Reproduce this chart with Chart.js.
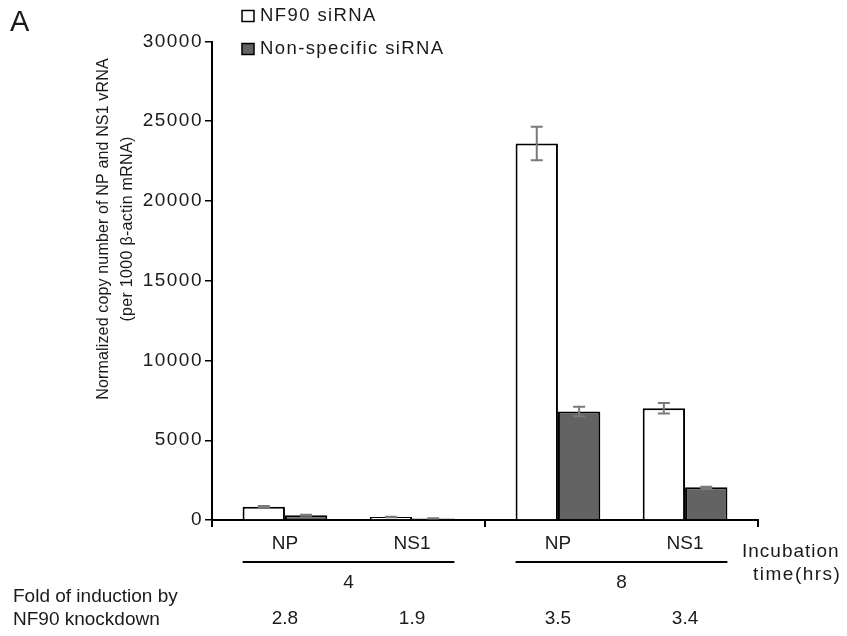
<!DOCTYPE html>
<html>
<head>
<meta charset="utf-8">
<script src="https://cdn.jsdelivr.net/npm/chart.js@4.4.1/dist/chart.umd.min.js"></script>
<style>
  html, body { margin: 0; padding: 0; background: #fff; }
  #wrap { width: 847px; height: 636px; position: relative; }
</style>
</head>
<body>
<div id="wrap"><canvas id="c"></canvas></div>
<script>
// incubation time groups and genes
const times = ['4', '8'];
const genes = ['NP', 'NS1'];
// order: NP 4h, NS1 4h, NP 8h, NS1 8h
const nf90Values = [830, 190, 23600, 7000];
const nf90Errors = [40, 20, 1050, 330];
const nonspecValues = [300, 100, 6800, 2050];
const nonspecErrors = [30, 10, 300, 40];
const foldLabels = ['2.8', '1.9', '3.5', '3.4'];
const yTicks = [0, 5000, 10000, 15000, 20000, 25000, 30000];

const FONT = '"Liberation Sans", Arial, sans-serif';
const INK = '#1a1a1a';
const DARK = '#636363';

// pick values of one gene for every time group
const pick = (arr, gi) => times.map((t, ti) => arr[ti * genes.length + gi]);

function series(label, arr, errs, gi, fill) {
  return {
    label, gene: gi,
    data: pick(arr, gi),
    errs: pick(errs, gi),
    backgroundColor: fill,
    borderColor: '#000',
    borderWidth: 2,
  };
}

const datasets = [
  series('NF90 siRNA', nf90Values, nf90Errors, 0, '#ffffff'),
  series('Non-specific siRNA', nonspecValues, nonspecErrors, 0, DARK),
  { label: '', data: times.map(() => null), backgroundColor: 'transparent', borderWidth: 0 }, // gap between genes
  series('NF90 siRNA', nf90Values, nf90Errors, 1, '#ffffff'),
  series('Non-specific siRNA', nonspecValues, nonspecErrors, 1, DARK),
];

function txt(ctx, s, x, y, size, align, spacing) {
  ctx.save();
  ctx.font = size + 'px ' + FONT;
  ctx.letterSpacing = (spacing || 0) + 'px';
  ctx.fillStyle = INK;
  ctx.textAlign = align || 'center';
  ctx.textBaseline = 'middle';
  ctx.fillText(s, x, y);
  ctx.restore();
}

const spacingPlugin = {
  id: 'spacing',
  beforeDraw(chart) { chart.ctx.letterSpacing = '1.5px'; }
};

const errorBars = {
  id: 'errorBars',
  afterDatasetsDraw(chart) {
    const ctx = chart.ctx, y = chart.scales.y;
    ctx.save();
    ctx.strokeStyle = '#7a7a7a';
    ctx.lineWidth = 2;
    chart.data.datasets.forEach((ds, di) => {
      if (!ds.errs) return;
      chart.getDatasetMeta(di).data.forEach((bar, i) => {
        const v = ds.data[i], e = ds.errs[i];
        const y1 = y.getPixelForValue(v + e), y2 = y.getPixelForValue(v - e);
        ctx.beginPath();
        ctx.moveTo(bar.x, y1); ctx.lineTo(bar.x, y2);
        ctx.moveTo(bar.x - 6, y1); ctx.lineTo(bar.x + 6, y1);
        ctx.moveTo(bar.x - 6, y2); ctx.lineTo(bar.x + 6, y2);
        ctx.stroke();
      });
    });
    ctx.restore();
  }
};

const annotations = {
  id: 'annotations',
  afterDraw(chart) {
    const ctx = chart.ctx, xs = chart.scales.x;
    const metas = chart.data.datasets.map((d, i) => chart.getDatasetMeta(i));

    // panel letter
    txt(ctx, 'A', 10, 23, 29, 'left', 0);

    // legend
    const legend = [['NF90 siRNA', '#ffffff', 16], ['Non-specific siRNA', DARK, 49]];
    legend.forEach(([label, fill, cy]) => {
      ctx.save();
      ctx.fillStyle = fill;
      ctx.strokeStyle = '#000';
      ctx.lineWidth = 1.5;
      ctx.fillRect(242, cy - 5.5, 12, 11);
      ctx.strokeRect(242, cy - 5.5, 12, 11);
      ctx.restore();
      txt(ctx, label, 260, cy, 18.5, 'left', 1.4);
    });

    // y axis title
    ctx.save();
    ctx.translate(104, 229);
    ctx.rotate(-Math.PI / 2);
    txt(ctx, 'Normalized copy number of NP and NS1 vRNA', 0, 0, 16, 'center', 0.15);
    txt(ctx, '(per 1000 \u03b2-actin mRNA)', 0, 24, 16, 'center', 0.3);
    ctx.restore();

    // gene labels, group lines, time labels, fold values
    times.forEach((t, ti) => {
      genes.forEach((g, gi) => {
        const a = metas[gi * 3].data[ti], b = metas[gi * 3 + 1].data[ti];
        const cx = (a.x + b.x) / 2;
        txt(ctx, g, cx, 543.5, 19, 'center', 0);
        txt(ctx, foldLabels[ti * genes.length + gi], cx, 619, 19, 'center', 0);
      });
      const first = metas[0].data[ti], last = metas[4].data[ti];
      ctx.save();
      ctx.strokeStyle = '#000';
      ctx.lineWidth = 2;
      ctx.beginPath();
      ctx.moveTo(first.x - first.width / 2, 562);
      ctx.lineTo(last.x + last.width / 2, 562);
      ctx.stroke();
      ctx.restore();
      txt(ctx, t, xs.getPixelForValue(ti), 583, 19, 'center', 0);
    });

    txt(ctx, 'Incubation', 742, 552, 19, 'left', 1);
    txt(ctx, 'time(hrs)', 753, 575, 19, 'left', 1.5);
    txt(ctx, 'Fold of induction by', 13, 597, 19, 'left', 0);
    txt(ctx, 'NF90 knockdown', 13, 620, 19, 'left', 0);
  }
};

new Chart(document.getElementById('c'), {
  type: 'bar',
  data: { labels: times, datasets },
  options: {
    responsive: true,
    maintainAspectRatio: false,
    animation: false,
    events: [],
    layout: { padding: { left: 0, right: 89, top: 41.5, bottom: 0 } },
    datasets: { bar: { categoryPercentage: 0.776, barPercentage: 1.0 } },
    plugins: { legend: { display: false }, tooltip: { enabled: false } },
    scales: {
      x: {
        ticks: { display: false },
        grid: { drawOnChartArea: false, color: '#000', lineWidth: 2, tickLength: 7, offset: true },
        border: { color: '#000', width: 2 },
        afterFit: s => { s.height = 116; },
      },
      y: {
        min: 0, max: 30000,
        afterBuildTicks: s => { s.ticks = yTicks.map(v => ({ value: v })); },
        ticks: { callback: v => String(v), color: INK, font: { family: FONT, size: 19 }, padding: 2 },
        grid: { drawOnChartArea: false, color: '#000', lineWidth: 1.5, tickLength: 7 },
        border: { color: '#000', width: 2 },
        afterFit: s => { s.width = 212; },
      }
    }
  },
  plugins: [spacingPlugin, errorBars, annotations]
});
</script>
</body>
</html>
